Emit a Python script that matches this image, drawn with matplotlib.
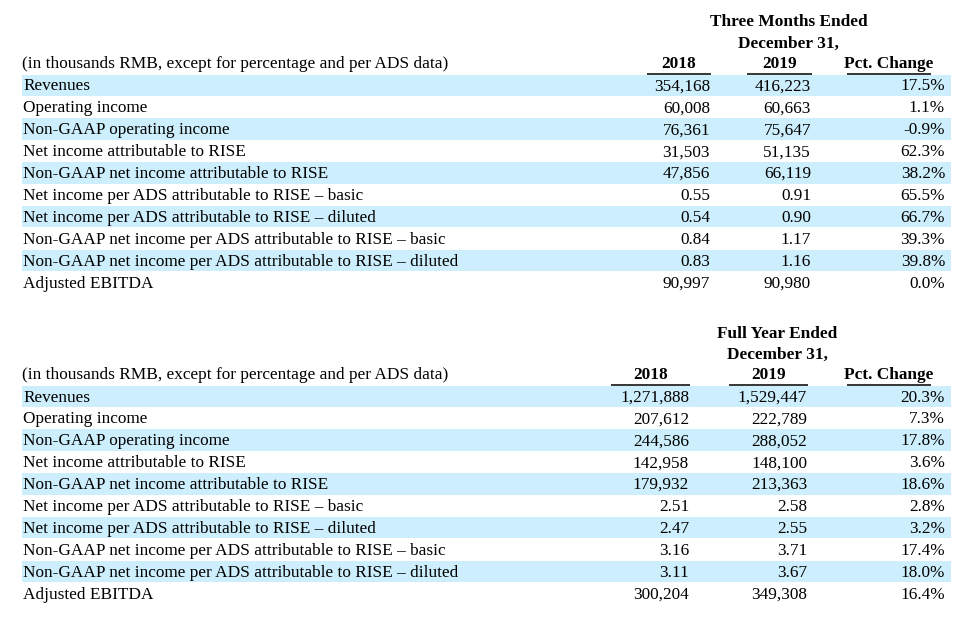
import matplotlib
matplotlib.use("Agg")
import matplotlib.pyplot as plt
from matplotlib.patches import Rectangle

# row labels shared by both tables
labels = [
    "Revenues",
    "Operating income",
    "Non-GAAP operating income",
    "Net income attributable to RISE",
    "Non-GAAP net income attributable to RISE",
    "Net income per ADS attributable to RISE \u2013 basic",
    "Net income per ADS attributable to RISE \u2013 diluted",
    "Non-GAAP net income per ADS attributable to RISE \u2013 basic",
    "Non-GAAP net income per ADS attributable to RISE \u2013 diluted",
    "Adjusted EBITDA",
]
per_ads = [False, False, False, False, False, True, True, True, True, False]

# three months ended December 31
q_2018 = [354168, 60008, 76361, 31503, 47856, 0.55, 0.54, 0.84, 0.83, 90997]
q_2019 = [416223, 60663, 75647, 51135, 66119, 0.91, 0.90, 1.17, 1.16, 90980]
q_pct = [17.5, 1.1, -0.9, 62.3, 38.2, 65.5, 66.7, 39.3, 39.8, 0.0]

# full year ended December 31
fy_2018 = [1271888, 207612, 244586, 142958, 179932, 2.51, 2.47, 3.16, 3.11, 300204]
fy_2019 = [1529447, 222789, 288052, 148100, 213363, 2.58, 2.55, 3.71, 3.67, 349308]
fy_pct = [20.3, 7.3, 17.8, 3.6, 18.6, 2.8, 3.2, 17.4, 18.0, 16.4]

col_heads = ["2018", "2019", "Pct. Change"]
unit_note = "(in thousands RMB, except for percentage and per ADS data)"
stripe = "#cdeefc"
font = "Liberation Serif"
fs = 12.4
base = 5.5  # baseline offset below the row centre, px


def fmt(v, ads):
    return f"{v:.2f}" if ads else f"{v:,.0f}"


def put(x, y, s, ha="left", bold=False):
    ax.text(x, y + base, s, ha=ha, va="baseline", fontsize=fs, family=font,
            fontweight="bold" if bold else "normal")


fig = plt.figure(figsize=(9.78, 6.18), dpi=100)
ax = fig.add_axes([0, 0, 1, 1])
ax.set_xlim(0, 978)
ax.set_ylim(618, 0)
ax.axis("off")


def draw_table(top, title, c2018, c2019, pct, cols):
    # cols: (left, right) of the underline for 2018, 2019, pct
    tx = (cols[1][0] + cols[1][1]) / 2 + 9
    put(tx, top, title, ha="center", bold=True)
    put(tx, top + 21.3, "December 31,", ha="center", bold=True)
    hy = top + 41.5
    put(22, hy, unit_note)
    for (l, r), h in zip(cols, col_heads):
        put((l + r) / 2, hy, h, ha="center", bold=True)
        ax.plot([l, r], [hy + 11.5, hy + 11.5], color="black", lw=1.1, solid_capstyle="butt")
    for i, lab in enumerate(labels):
        y = hy + 22.5 + i * 21.9
        if i % 2 == 0:
            ax.add_patch(Rectangle((22, y - 10.5), 929, 21.5, facecolor=stripe, edgecolor="none", zorder=0))
        put(23, y, lab)
        put(cols[0][1] - 1, y, fmt(c2018[i], per_ads[i]), ha="right")
        put(cols[1][1] - 1, y, fmt(c2019[i], per_ads[i]), ha="right")
        put(945, y, f"{pct[i]:.1f}%", ha="right")


draw_table(21, "Three Months Ended", q_2018, q_2019, q_pct, [(647, 711), (747, 812), (847, 931)])
draw_table(332, "Full Year Ended", fy_2018, fy_2019, fy_pct, [(611, 690), (729, 808), (847, 931)])

fig.savefig("out.png", dpi=100)
